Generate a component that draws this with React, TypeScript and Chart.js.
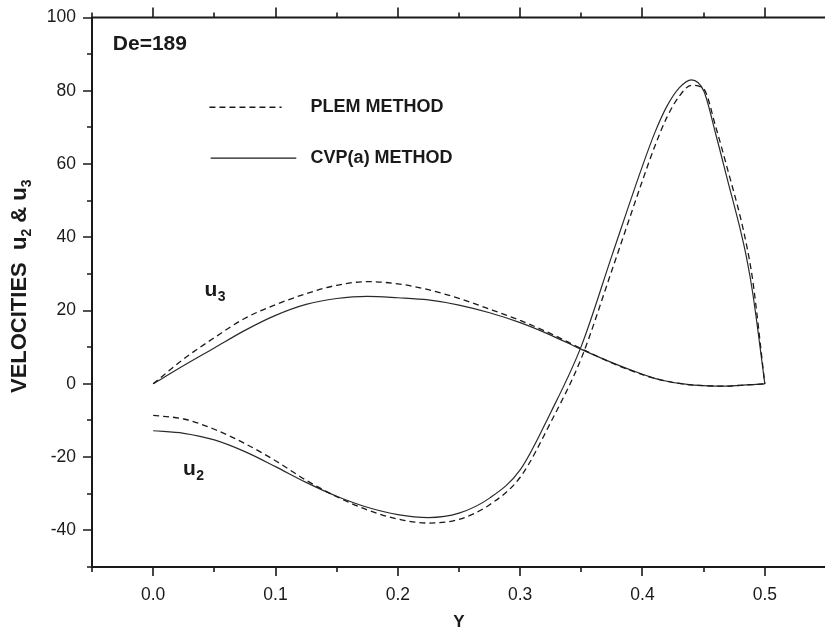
import React, { useEffect, useRef } from "react";
import { Chart, registerables } from "chart.js";

Chart.register(...registerables);

// ---- data ----
const Y_POS = [0, 0.025, 0.05, 0.075, 0.1, 0.125, 0.15, 0.175, 0.2, 0.225, 0.25, 0.275, 0.3, 0.325, 0.35, 0.375, 0.4, 0.41, 0.42, 0.43, 0.44, 0.45, 0.46, 0.47, 0.48, 0.485, 0.49, 0.5];
const U2_PLEM = [-8.6, -9.6, -12.4, -16.3, -21.0, -26.3, -30.8, -34.4, -36.9, -38.0, -37.0, -33.0, -25.5, -10.5, 7.0, 31.0, 55.5, 64.8, 72.8, 78.5, 81.5, 80.5, 70.0, 58.0, 45.5, 38.0, 28.5, 0];
const U2_CVP = [-12.8, -13.5, -15.3, -18.5, -22.6, -26.9, -30.7, -33.7, -35.7, -36.5, -35.3, -31.2, -23.5, -7.8, 10.3, 35.0, 59.5, 68.5, 75.8, 80.8, 83.0, 80.0, 68.0, 55.0, 42.0, 34.5, 25.0, 0];
const U3_PLEM = [0, 6.8, 12.6, 17.9, 21.6, 24.6, 26.9, 27.9, 27.3, 25.7, 23.3, 20.4, 17.3, 13.7, 9.6, 5.7, 2.5, 1.5, 0.7, 0.1, -0.3, -0.5, -0.6, -0.6, -0.4, -0.3, -0.2, 0];
const U3_CVP = [0, 5.0, 9.8, 14.6, 18.7, 21.7, 23.3, 23.9, 23.5, 22.9, 21.5, 19.4, 16.7, 13.3, 9.4, 5.8, 2.6, 1.5, 0.7, 0.1, -0.3, -0.5, -0.6, -0.6, -0.4, -0.3, -0.2, 0];

const X_TICKS = [0, 0.1, 0.2, 0.3, 0.4, 0.5];
const X_MINOR = [-0.05, 0.05, 0.15, 0.25, 0.35, 0.45, 0.55];
const Y_TICKS = [-40, -20, 0, 20, 40, 60, 80, 100];
const Y_MINOR = [-50, -30, -10, 10, 30, 50, 70, 90];
const X_MIN = -0.05, X_MAX = 0.55, Y_MIN = -50, Y_MAX = 100;

const LEGEND_LABELS = ["PLEM METHOD", "CVP(a) METHOD"];
const DE_LABEL = "De=189";
const Y_TITLE = ["VELOCITIES  ", "u", "2", " & ", "u", "3"];

// annotation anchors in data units
const DE_AT = { x: -0.033, y: 92.8 };
const LEG_DASH = { x0: 0.046, x1: 0.105, y: 75.5 };
const LEG_SOLID = { x0: 0.047, x1: 0.117, y: 61.6 };
const LEG_TEXT_X = 0.1287;
const U3_AT = { x: 0.042, y: 24.1 };
const U2_AT = { x: 0.0244, y: -24.9 };

const FONT = "'Liberation Sans', Arial, Helvetica, sans-serif";
const INK = "#1a1a1a";
const DASH = [6, 4];

const pts = (ys: number[]) => Y_POS.map((x, i) => ({ x, y: ys[i] }));

const overlay = {
  id: "overlay",
  afterDraw(chart: any) {
    const { ctx, chartArea: a, scales } = chart;
    const x = scales.x, y = scales.y;
    const px = (v: number) => x.getPixelForValue(v);
    const py = (v: number) => y.getPixelForValue(v);
    ctx.save();
    ctx.strokeStyle = INK;
    ctx.fillStyle = INK;
    // axis lines
    ctx.lineWidth = 2;
    ctx.beginPath();
    ctx.moveTo(a.left, a.top - 1); ctx.lineTo(a.left, a.bottom + 1);
    ctx.moveTo(a.left - 1, a.bottom); ctx.lineTo(a.right + 1, a.bottom);
    ctx.moveTo(a.left - 1, a.top); ctx.lineTo(a.right + 1, a.top);
    ctx.moveTo(a.right, a.top - 1); ctx.lineTo(a.right, a.bottom + 1);
    ctx.stroke();
    // ticks
    ctx.lineWidth = 1.6;
    ctx.beginPath();
    const xt = (v: number, len: number, lenTop: number) => {
      const p = Math.round(px(v));
      ctx.moveTo(p, a.bottom); ctx.lineTo(p, a.bottom + len);
      ctx.moveTo(p, a.top); ctx.lineTo(p, a.top - lenTop);
    };
    X_TICKS.forEach((v) => xt(v, 9, 10));
    X_MINOR.forEach((v) => xt(v, 5, 5));
    const yt = (v: number, len: number) => {
      const p = Math.round(py(v));
      ctx.moveTo(a.left, p); ctx.lineTo(a.left - len, p);
    };
    Y_TICKS.forEach((v) => yt(v, 9));
    Y_MINOR.forEach((v) => yt(v, 5));
    ctx.stroke();

    // De label
    ctx.textBaseline = "middle";
    ctx.textAlign = "left";
    ctx.font = `bold 21px ${FONT}`;
    ctx.fillText(DE_LABEL, px(DE_AT.x), py(DE_AT.y));

    // legend
    ctx.lineWidth = 1.3;
    ctx.setLineDash(DASH);
    ctx.beginPath();
    ctx.moveTo(px(LEG_DASH.x0), py(LEG_DASH.y)); ctx.lineTo(px(LEG_DASH.x1), py(LEG_DASH.y));
    ctx.stroke();
    ctx.setLineDash([]);
    ctx.beginPath();
    ctx.moveTo(px(LEG_SOLID.x0), py(LEG_SOLID.y)); ctx.lineTo(px(LEG_SOLID.x1), py(LEG_SOLID.y));
    ctx.stroke();
    ctx.font = `bold 18px ${FONT}`;
    ctx.fillText(LEGEND_LABELS[0], px(LEG_TEXT_X), py(LEG_DASH.y));
    ctx.fillText(LEGEND_LABELS[1], px(LEG_TEXT_X), py(LEG_SOLID.y));

    // curve labels
    const sub = (base: string, s: string, at: { x: number; y: number }) => {
      ctx.textBaseline = "alphabetic";
      ctx.font = `bold 21px ${FONT}`;
      const x0 = px(at.x), y0 = py(at.y);
      ctx.fillText(base, x0, y0);
      const w = ctx.measureText(base).width;
      ctx.font = `bold 14px ${FONT}`;
      ctx.fillText(s, x0 + w + 0.5, y0 + 5);
    };
    sub("u", "3", U3_AT);
    sub("u", "2", U2_AT);

    // y axis title with subscripts (baseline ~26px from the left edge)
    const cy = (a.top + a.bottom) / 2 - 6;
    const bx = a.left - 66;
    const big = `bold 22px ${FONT}`, small = `bold 14px ${FONT}`;
    const segs = Y_TITLE.map((t, i) => ({ t, f: i === 2 || i === 5 ? small : big, dy: i === 2 || i === 5 ? 5 : 0 }));
    let total = 0;
    segs.forEach((s) => { ctx.font = s.f; total += ctx.measureText(s.t).width; });
    ctx.translate(bx, cy);
    ctx.rotate(-Math.PI / 2);
    ctx.textBaseline = "alphabetic";
    let cur = -total / 2;
    segs.forEach((s) => {
      ctx.font = s.f;
      ctx.fillText(s.t, cur, s.dy);
      cur += ctx.measureText(s.t).width;
    });
    ctx.restore();
  },
};

export default function App() {
  const ref = useRef<HTMLCanvasElement | null>(null);
  useEffect(() => {
    if (!ref.current) return;
    const chart = new Chart(ref.current, {
      type: "line",
      data: {
        datasets: [
          { label: "u2 PLEM", data: pts(U2_PLEM), borderColor: INK, borderWidth: 1.3, borderDash: DASH, pointRadius: 0, cubicInterpolationMode: "monotone", fill: false },
          { label: "u3 PLEM", data: pts(U3_PLEM), borderColor: INK, borderWidth: 1.3, borderDash: DASH, pointRadius: 0, cubicInterpolationMode: "monotone", fill: false },
          { label: "u2 CVP", data: pts(U2_CVP), borderColor: "#2a2a2a", borderWidth: 1.2, pointRadius: 0, cubicInterpolationMode: "monotone", fill: false },
          { label: "u3 CVP", data: pts(U3_CVP), borderColor: "#2a2a2a", borderWidth: 1.2, pointRadius: 0, cubicInterpolationMode: "monotone", fill: false },
        ],
      },
      options: {
        responsive: false,
        animation: false,
        devicePixelRatio: 1,
        layout: { padding: { top: 16, right: 4, left: 0, bottom: 0 } },
        plugins: { legend: { display: false }, tooltip: { enabled: false } },
        scales: {
          x: {
            type: "linear",
            min: X_MIN,
            max: X_MAX,
            afterBuildTicks: (ax: any) => { ax.ticks = X_TICKS.map((v) => ({ value: v })); },
            afterFit: (ax: any) => { ax.height = 71; },
            grid: { display: true, drawOnChartArea: false, drawTicks: true, tickLength: 9, tickColor: "transparent", color: "transparent" },
            border: { display: false },
            ticks: { padding: 9, color: INK, font: { family: FONT, size: 17.5 }, callback: (v: any) => Number(v).toFixed(1), maxRotation: 0, autoSkip: false },
            title: { display: true, text: "Y", color: INK, font: { family: FONT, size: 17, weight: "bold" }, padding: { top: 0, bottom: 5 } },
          },
          y: {
            type: "linear",
            min: Y_MIN,
            max: Y_MAX,
            afterBuildTicks: (ax: any) => { ax.ticks = Y_TICKS.map((v) => ({ value: v })); },
            afterFit: (ax: any) => { ax.width = 92; },
            grid: { display: true, drawOnChartArea: false, drawTicks: true, tickLength: 9, tickColor: "transparent", color: "transparent" },
            border: { display: false },
            ticks: { padding: 7, color: INK, font: { family: FONT, size: 17.5 }, autoSkip: false },
          },
        },
      },
      plugins: [overlay],
    } as any);
    return () => chart.destroy();
  }, []);
  return (
    <div style={{ position: "fixed", left: 0, top: 0, width: 825, height: 638, overflow: "hidden", background: "#fff" }}>
      <canvas ref={ref} width={830} height={638} style={{ display: "block", width: 830, height: 638 }} />
    </div>
  );
}
